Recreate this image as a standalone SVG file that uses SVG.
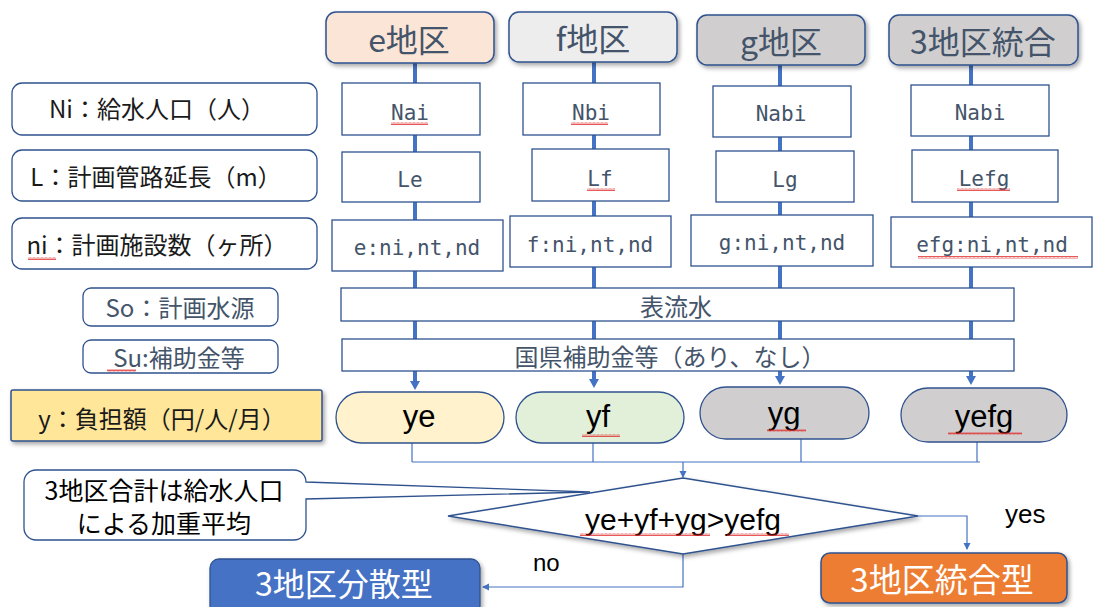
<svg xmlns="http://www.w3.org/2000/svg" width="1099" height="607" viewBox="0 0 1099 607">
<defs>
<filter id="sh" x="-10%" y="-20%" width="125%" height="150%">
<feDropShadow dx="2" dy="2.5" stdDeviation="2" flood-color="#000" flood-opacity="0.35"/>
</filter>
<marker id="ahB" markerWidth="10" markerHeight="10" refX="4" refY="5" orient="auto" markerUnits="userSpaceOnUse">
<path d="M0,0 L9,5 L0,10 Z" fill="#4472C4"/>
</marker>
<marker id="ahT" markerWidth="8" markerHeight="8" refX="6" refY="4" orient="auto" markerUnits="userSpaceOnUse">
<path d="M0,0.5 L7,4 L0,7.5 Z" fill="#4472C4"/>
</marker>
<pattern id="sq" width="4" height="3" patternUnits="userSpaceOnUse">
<path d="M0,2.5 L1,0.5 L2,2.5 L3,0.5 L4,2.5" fill="none" stroke="#E03030" stroke-width="0.8"/>
</pattern>
<style>
.box{fill:#fff;stroke:#2F528F;stroke-width:1.3}
.hdr{stroke:#2F528F;stroke-width:1.5;filter:url(#sh)}
.jp{font-family:"Noto Sans CJK JP",sans-serif}
.lat{font-family:"Liberation Sans",Arial,sans-serif}
.mono{font-family:"DejaVu Sans Mono","Liberation Mono",monospace;font-size:21px;fill:#44546A;text-anchor:middle}
.h{font-size:32px;fill:#44546A;text-anchor:middle}
.lb{font-size:24px;fill:#1a1a1a;text-anchor:middle}
.lb2{font-size:24px;fill:#44546A;text-anchor:middle}
.pt{font-size:31px;fill:#000;text-anchor:middle}
.thick{fill:none;stroke:#4472C4;stroke-width:4}
.thin{fill:none;stroke:#4472C4;stroke-width:1.2}
.sq{fill:url(#sq)}
</style>
</defs>

<g id="connectors">
<path class="thick" d="M415,63 V385" marker-end="url(#ahB)"/>
<path class="thick" d="M594,62 V383" marker-end="url(#ahB)"/>
<path class="thick" d="M780,65 V380" marker-end="url(#ahB)"/>
<path class="thick" d="M971,65 V380" marker-end="url(#ahB)"/>
<path class="thin" d="M412,443 V462 M593,443 V462 M801,439 V462 M977,442 V462 M412,462 H980"/>
<path class="thin" d="M683,462 V477" marker-end="url(#ahT)"/>
<path class="thin" d="M918,516 H967 V549" marker-end="url(#ahT)"/>
<path class="thin" d="M683,554 V587 H483" marker-end="url(#ahT)"/>
</g>

<g id="hdr-e"><rect class="hdr" x="326" y="12" width="168" height="51" rx="10" fill="#FBE5D6"/><text class="jp h" x="409" y="52">e地区</text></g>
<g id="hdr-f"><rect class="hdr" x="509" y="12" width="168" height="50" rx="10" fill="#EDEDED"/><text class="jp h" x="593" y="51">f地区</text></g>
<g id="hdr-g"><rect class="hdr" x="697" y="15" width="168" height="50" rx="10" fill="#D0CECE"/><text class="jp h" x="781" y="54">g地区</text></g>
<g id="hdr-3"><rect class="hdr" x="889" y="15" width="189" height="50" rx="10" fill="#D0CECE"/><text class="jp h" x="983" y="54">3地区統合</text></g>

<g id="lbl-ni"><rect class="box" x="12" y="83" width="305" height="52" rx="10"/><text class="jp lb" x="157" y="118">Ni：給水人口（人）</text></g>
<g id="lbl-l"><rect class="box" x="12" y="150" width="305" height="51" rx="10"/><text class="jp lb" x="156" y="186">L：計画管路延長（m）</text></g>
<g id="lbl-n"><rect class="box" x="12" y="218" width="305" height="51" rx="10"/><text class="jp lb" x="157" y="254">ni：計画施設数（ヶ所）</text></g>
<g id="lbl-so"><rect class="box" x="83" y="288" width="195" height="38" rx="8"/><text class="jp lb2" x="180" y="317">So：計画水源</text></g>
<g id="lbl-su"><rect class="box" x="83" y="340" width="195" height="33" rx="8"/><text class="jp lb2" x="179" y="367">Su:補助金等</text></g>
<g id="lbl-y"><rect x="11" y="390" width="311" height="51" rx="2" fill="#FFE699" stroke="#2F528F" stroke-width="1.5" filter="url(#sh)"/><text class="jp lb" x="162" y="428">y：負担額（円/人/月）</text></g>

<g id="nai"><rect class="box" x="342" y="83" width="138" height="52"/><text class="mono" x="410" y="120">Nai</text></g>
<g id="nbi"><rect class="box" x="523" y="83" width="137" height="52"/><text class="mono" x="591" y="120">Nbi</text></g>
<g id="nabi-g"><rect class="box" x="713" y="86" width="138" height="51"/><text class="mono" x="781" y="121">Nabi</text></g>
<g id="nabi-3"><rect class="box" x="911" y="85" width="138" height="51"/><text class="mono" x="980" y="120">Nabi</text></g>

<g id="le"><rect class="box" x="342" y="152" width="138" height="50"/><text class="mono" x="410" y="187">Le</text></g>
<g id="lf"><rect class="box" x="532" y="149" width="137" height="52"/><text class="mono" x="600" y="186">Lf</text></g>
<g id="lg"><rect class="box" x="716" y="151" width="138" height="51"/><text class="mono" x="785" y="187">Lg</text></g>
<g id="lefg"><rect class="box" x="912" y="150" width="146" height="52"/><text class="mono" x="984" y="186">Lefg</text></g>

<g id="n-e"><rect class="box" x="332" y="220" width="171" height="51"/><text class="mono" x="417" y="255">e:ni,nt,nd</text></g>
<g id="n-f"><rect class="box" x="510" y="216" width="161" height="51"/><text class="mono" x="590" y="252">f:ni,nt,nd</text></g>
<g id="n-g"><rect class="box" x="691" y="215" width="182" height="51"/><text class="mono" x="782" y="250">g:ni,nt,nd</text></g>
<g id="n-efg"><rect class="box" x="891" y="217" width="201" height="50"/><text class="mono" x="992" y="252">efg:ni,nt,nd</text></g>

<g id="source"><rect class="box" x="341" y="288" width="673" height="33"/><text class="jp lb2" x="676" y="316">表流水</text></g>
<g id="subsidy"><rect class="box" x="342" y="339" width="672" height="32"/><text class="jp lb2" x="670" y="366">国県補助金等（あり、なし）</text></g>

<g id="ye"><rect x="336" y="392" width="168" height="51" rx="25.5" fill="#FFF2CC" stroke="#2F528F" stroke-width="1.3"/><text class="lat pt" x="419" y="427">ye</text></g>
<g id="yf"><rect x="516" y="392" width="168" height="51" rx="25.5" fill="#E2F0D9" stroke="#2F528F" stroke-width="1.3"/><text class="lat pt" x="598" y="427">yf</text></g>
<g id="yg"><rect x="700" y="387" width="169" height="52" rx="26" fill="#D0CECE" stroke="#2F528F" stroke-width="1.3"/><text class="lat pt" x="784" y="424">yg</text></g>
<g id="yefg"><rect x="901" y="388" width="166" height="54" rx="27" fill="#D0CECE" stroke="#2F528F" stroke-width="1.3"/><text class="lat pt" x="984" y="427">yefg</text></g>

<g id="callout"><path d="M36,470 H294 A12,12 0 0 1 306,482 L590,492 L306,499 V528 A12,12 0 0 1 294,540 H36 A12,12 0 0 1 24,528 V482 A12,12 0 0 1 36,470 Z" fill="#fff" stroke="#2F528F" stroke-width="1.3"/>
<text class="jp" font-size="25" fill="#000" text-anchor="middle" x="164" y="500">3地区合計は給水人口</text>
<text class="jp" font-size="25" fill="#000" text-anchor="middle" x="164" y="533">による加重平均</text></g>

<g id="decision"><path d="M683,478 L918,516 L683,554 L448,516 Z" fill="#fff" stroke="#2F528F" stroke-width="1.5" filter="url(#sh)"/><text class="lat" font-size="30" fill="#000" text-anchor="middle" x="683" y="530">ye+yf+yg&gt;yefg</text></g>

<g id="lbl-yes"><text class="lat" font-size="26" fill="#000" x="1005" y="523">yes</text></g>
<g id="lbl-no"><text class="lat" font-size="24" fill="#000" x="533" y="571">no</text></g>

<g id="bunsan"><rect x="210" y="559" width="270" height="56" rx="9" fill="#4472C4" stroke="#2F528F" stroke-width="1.3" filter="url(#sh)"/><text class="jp" font-size="32" fill="#fff" text-anchor="middle" x="344" y="596">3地区分散型</text></g>
<g id="tougou"><rect x="821" y="553" width="246" height="50" rx="9" fill="#ED7D31" stroke="#2F528F" stroke-width="1.5" filter="url(#sh)"/><text class="jp" font-size="33" fill="#fff" text-anchor="middle" x="942" y="592">3地区統合型</text></g>

<g id="spellcheck">
<rect class="sq" x="391" y="122" width="37" height="3"/>
<rect class="sq" x="571" y="122" width="37" height="3"/>
<rect class="sq" x="587" y="188" width="28" height="3"/>
<rect class="sq" x="957" y="188" width="53" height="3"/>
<rect class="sq" x="28" y="257" width="28" height="3"/>
<rect class="sq" x="107" y="369" width="29" height="3"/>
<rect class="sq" x="918" y="256" width="160" height="3"/>
<rect class="sq" x="582" y="434" width="38" height="3"/>
<rect class="sq" x="767" y="429" width="39" height="3"/>
<rect class="sq" x="948" y="432" width="74" height="3"/>
<rect class="sq" x="580" y="533" width="130" height="3"/>
<rect class="sq" x="727" y="533" width="62" height="3"/>
</g>
</svg>
